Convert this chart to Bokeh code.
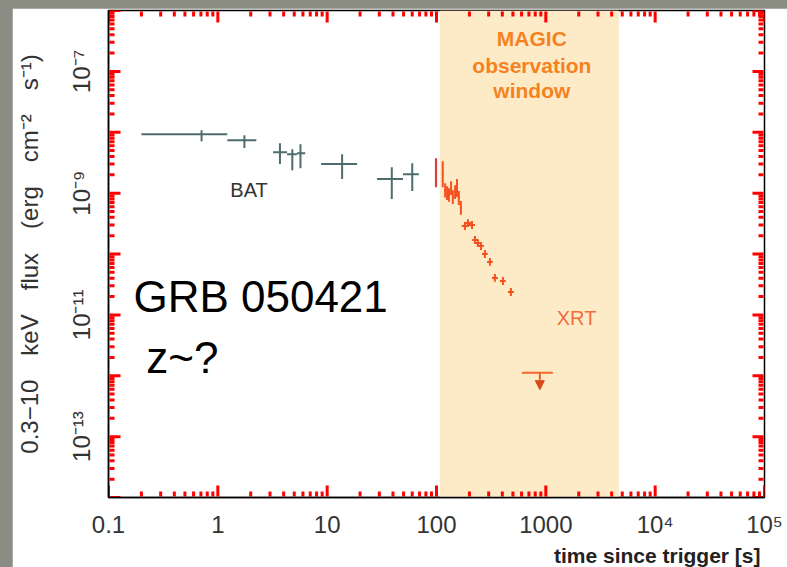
from bokeh.plotting import figure
from bokeh.layouts import column
from bokeh.models import (FixedTicker, CustomJSTickFormatter, BoxAnnotation, ColumnDataSource,
                          Label, Arrow, NormalHead, Range1d, Title, Whisker)
from bokeh.embed import file_html
from bokeh.resources import INLINE

# ---- Swift/BAT light curve (extrapolated to 0.3-10 keV) ----
bat_t = [0.71, 1.75, 3.7, 4.8, 5.7, 13.7, 39.0, 60.0]
bat_t_lo = [0.20, 1.22, 3.2, 4.3, 5.3, 8.8, 28.6, 49.4]
bat_t_hi = [1.22, 2.25, 4.3, 5.3, 6.3, 18.8, 49.4, 69.0]
bat_f = [9.3e-9, 7.4e-9, 4.7e-9, 4.35e-9, 4.5e-9, 3.0e-9, 1.7e-9, 2.05e-9]
bat_f_lo = [7.1e-9, 5.5e-9, 3.0e-9, 2.38e-9, 2.57e-9, 1.7e-9, 8.0e-10, 1.08e-9]
bat_f_hi = [1.08e-8, 8.9e-9, 6.6e-9, 5.26e-9, 6.35e-9, 4.35e-9, 2.67e-9, 3.1e-9]

# ---- Swift/XRT: first window-timing bin ----
xrt0_t = [99.0]
xrt0_f_lo = [1.25e-9]
xrt0_f_hi = [3.75e-9]

# ---- Swift/XRT: window-timing bins ----
wt_t = [114, 120, 125, 130, 136, 141, 148, 154, 160, 167]
wt_t_lo = [112, 118, 123, 128, 134, 139, 146, 152, 157, 164]
wt_t_hi = [116, 122, 127, 132, 138, 143, 150, 156, 163, 170]
wt_f = [2.05e-9, 1.12e-9, 1.0e-9, 9.3e-10, 1.21e-9, 8.6e-10, 1.04e-9, 1.21e-9, 8.3e-10, 5.7e-10]
wt_f_lo = [1.25e-9, 8.5e-10, 7.7e-10, 7.2e-10, 9.3e-10, 6.6e-10, 8.0e-10, 8.6e-10, 6.4e-10, 4.4e-10]
wt_f_hi = [3.35e-9, 1.45e-9, 1.3e-9, 1.2e-9, 1.57e-9, 1.12e-9, 1.35e-9, 1.7e-9, 1.08e-9, 7.4e-10]

# ---- Swift/XRT: photon-counting bins ----
pc_t = [182, 194, 211, 225, 239, 255, 277, 308, 342, 405, 479]
pc_t_lo = [170, 182, 198, 212, 225, 240, 261, 290, 322, 380, 450]
pc_t_hi = [194, 207, 225, 239, 254, 271, 294, 327, 364, 430, 509]
pc_f = [2.88e-10, 3.22e-10, 2.99e-10, 1.7e-10, 1.51e-10, 1.35e-10, 1.0e-10, 7.4e-11,
        4.05e-11, 3.6e-11, 2.38e-11]
pc_f_lo = [2.48e-10, 2.77e-10, 2.57e-10, 1.46e-10, 1.30e-10, 1.16e-10, 8.6e-11, 6.4e-11,
           3.5e-11, 3.1e-11, 2.05e-11]
pc_f_hi = [3.34e-10, 3.74e-10, 3.47e-10, 1.97e-10, 1.75e-10, 1.57e-10, 1.16e-10, 8.6e-11,
           4.7e-11, 4.2e-11, 2.76e-11]

# ---- Swift/XRT upper limit ----
ul_t = [881]
ul_t_lo = [604]
ul_t_hi = [1159]
ul_f = [1.12e-12]
ul_tip = [5.9e-13]

# MAGIC observation window (s after trigger)
magic_start = 107
magic_end = 4650

# axis extents and decades
x_lim = (0.1, 1e5)
y_lim = (1e-14, 1e-6)
x_decades = [-1, 0, 1, 2, 3, 4, 5]
y_decades = [-14, -13, -12, -11, -10, -9, -8, -7, -6]

BAT_COL = "#4e6d6d"
XRT_COL = "#f4511e"
XRT0_COL = "#d8413c"
FONT = "Liberation Sans"
TICK_COL = "#ff0000"
MAJOR_LEN = 12
MINOR_LEN = 6

# figure geometry
FIG_W, FIG_H = 775, 559
B_LEFT, B_RIGHT, B_TOP, B_BOTTOM = 96, 23, 2, 70
FRAME_W = FIG_W - B_LEFT - B_RIGHT
FRAME_H = FIG_H - B_TOP - B_BOTTOM
PX_PER_DEC_X = FRAME_W / (len(x_decades) - 1)
PX_PER_DEC_Y = FRAME_H / (len(y_decades) - 1)

x_major = [10.0 ** k for k in x_decades]
x_minor = [m * 10.0 ** k for k in x_decades[:-1] for m in range(2, 10)]
y_major = [10.0 ** k for k in y_decades]
y_minor = [m * 10.0 ** k for k in y_decades[:-1] for m in range(2, 10)]

SUP = ("const sup = {'-':'\u207b','0':'\u2070','1':'\u00b9','2':'\u00b2','3':'\u00b3',"
       "'4':'\u2074','5':'\u2075','6':'\u2076','7':'\u2077','8':'\u2078','9':'\u2079'};")

x_fmt = CustomJSTickFormatter(code=SUP + """
const e = Math.round(Math.log10(tick));
if (e < 0) return tick.toFixed(-e);
if (e <= 3) return String(Math.round(tick));
return '10' + String(e).split('').map(c => sup[c]).join('');
""")
y_fmt = CustomJSTickFormatter(code=SUP + """
const e = Math.round(Math.log10(tick));
if (Math.abs(e) % 2 == 0) return '';
return '10' + String(e).split('').map(c => sup[c]).join('');
""")

p = figure(width=FIG_W, height=FIG_H, x_axis_type="log", y_axis_type="log",
           x_range=Range1d(*x_lim), y_range=Range1d(*y_lim), title=None,
           output_backend="svg", toolbar_location=None,
           min_border_left=B_LEFT, min_border_right=B_RIGHT,
           min_border_top=B_TOP, min_border_bottom=B_BOTTOM)
p.margin = (8, 0, 0, 12)
p.grid.visible = False
p.border_fill_color = "white"
p.background_fill_color = "white"
p.outline_line_color = "black"
p.outline_line_width = 1.5

xt = FixedTicker(ticks=x_major, minor_ticks=x_minor)
yt = FixedTicker(ticks=y_major, minor_ticks=y_minor)

for ax in (p.xaxis[0], p.yaxis[0]):
    ax.axis_line_color = "black"
    ax.axis_line_width = 1.5
    ax.major_tick_in = 0
    ax.major_tick_out = 0
    ax.minor_tick_in = 0
    ax.minor_tick_out = 0
    ax.major_label_text_font = FONT
    ax.major_label_text_font_size = "24px"
    ax.major_label_text_color = "#333333"

xa = p.xaxis[0]
xa.ticker = xt
xa.formatter = x_fmt
xa.major_label_standoff = 13

ya = p.yaxis[0]
ya.ticker = yt
ya.formatter = y_fmt
ya.major_label_orientation = "vertical"
ya.major_label_standoff = 14
ya.axis_label = "0.3\u221210\u2003keV\u2003flux\u2003(erg\u2003cm\u207b\u00b2\u2003s\u207b\u00b9)"
ya.axis_label_text_font = FONT
ya.axis_label_text_font_size = "24px"
ya.axis_label_text_font_style = "normal"
ya.axis_label_text_color = "#333333"
ya.axis_label_standoff = 22

# x axis title, right aligned under the axis
p.add_layout(Title(text="time since trigger [s]", align="right", text_font=FONT,
                   text_font_size="21px", text_font_style="bold", text_color="#222222",
                   standoff=2, offset=4), "below")

# MAGIC observation window
p.add_layout(BoxAnnotation(left=magic_start, right=magic_end, fill_color="#fdebc8",
                           fill_alpha=1.0, line_color=None, level="underlay"))

# inward tick marks on all four sides, starting one pixel inside the frame
for ticks, ln, lw in ((x_major, MAJOR_LEN, 3.0), (x_minor, MINOR_LEN, 3.0)):
    f = 10 ** (ln / PX_PER_DEC_Y)
    g = 10 ** (1.0 / PX_PER_DEC_Y)
    n = len(ticks)
    p.segment(x0=ticks, x1=ticks, y0=[y_lim[0] * g] * n, y1=[y_lim[0] * f] * n,
              line_color=TICK_COL, line_width=lw)
    p.segment(x0=ticks, x1=ticks, y0=[y_lim[1] / g] * n, y1=[y_lim[1] / f] * n,
              line_color=TICK_COL, line_width=lw)
for ticks, ln, lw in ((y_major, MAJOR_LEN, 3.0), (y_minor, MINOR_LEN, 3.0)):
    f = 10 ** (ln / PX_PER_DEC_X)
    g = 10 ** (1.0 / PX_PER_DEC_X)
    n = len(ticks)
    p.segment(x0=[x_lim[0] * g] * n, x1=[x_lim[0] * f] * n, y0=ticks, y1=ticks,
              line_color=TICK_COL, line_width=lw)
    p.segment(x0=[x_lim[1] / g] * n, x1=[x_lim[1] / f] * n, y0=ticks, y1=ticks,
              line_color=TICK_COL, line_width=lw)

# BAT crosses
p.segment(x0=bat_t_lo, x1=bat_t_hi, y0=bat_f, y1=bat_f, line_color=BAT_COL, line_width=2)
p.segment(x0=bat_t, x1=bat_t, y0=bat_f_lo, y1=bat_f_hi, line_color=BAT_COL, line_width=2)

# XRT first bin
p.segment(x0=xrt0_t, x1=xrt0_t, y0=xrt0_f_lo, y1=xrt0_f_hi, line_color=XRT0_COL, line_width=2.2)

# XRT WT bins
p.segment(x0=wt_t_lo, x1=wt_t_hi, y0=wt_f, y1=wt_f, line_color=XRT_COL, line_width=2)
p.segment(x0=wt_t, x1=wt_t, y0=wt_f_lo, y1=wt_f_hi, line_color=XRT_COL, line_width=2)

# XRT PC bins
p.segment(x0=pc_t_lo, x1=pc_t_hi, y0=pc_f, y1=pc_f, line_color=XRT_COL, line_width=2)
p.segment(x0=pc_t, x1=pc_t, y0=pc_f_lo, y1=pc_f_hi, line_color=XRT_COL, line_width=2)

# XRT upper limit
p.segment(x0=ul_t_lo, x1=ul_t_hi, y0=ul_f, y1=ul_f, line_color="#f2682c", line_width=2)
p.add_layout(Arrow(x_start=ul_t[0], y_start=ul_f[0], x_end=ul_t[0], y_end=ul_tip[0],
                   line_color="#e8602a", line_width=2,
                   end=NormalHead(size=9, fill_color="#d9481a", line_color="#d9481a")))

# annotations
p.add_layout(Label(x=1.3, y=7.4e-10, text="BAT", text_font=FONT, text_font_size="20px",
                   text_color="#333333"))
p.add_layout(Label(x=1259, y=5.9e-12, text="XRT", text_font=FONT, text_font_size="20px",
                   text_color="#f26d3d"))
for txt, yy in [("MAGIC", 10 ** (-6 - 40 / 61)), ("observation", 10 ** (-6 - 67 / 61)),
                ("window", 10 ** (-6 - 92 / 61))]:
    p.add_layout(Label(x=745, y=yy, text=txt, text_font=FONT, text_font_size="21px",
                       text_font_style="bold", text_color="#f5821f", text_align="center"))
p.add_layout(Label(x=0.169, y=7.98e-12, text="GRB 050421", text_font=FONT,
                   text_font_size="44px", text_color="black"))
p.add_layout(Label(x=0.222, y=7.98e-13, text="z~?", text_font=FONT,
                   text_font_size="44px", text_color="black"))

root = column(p, styles={"background-color": "#8c8d82"})
open("out.html", "w").write(file_html(root, INLINE))
